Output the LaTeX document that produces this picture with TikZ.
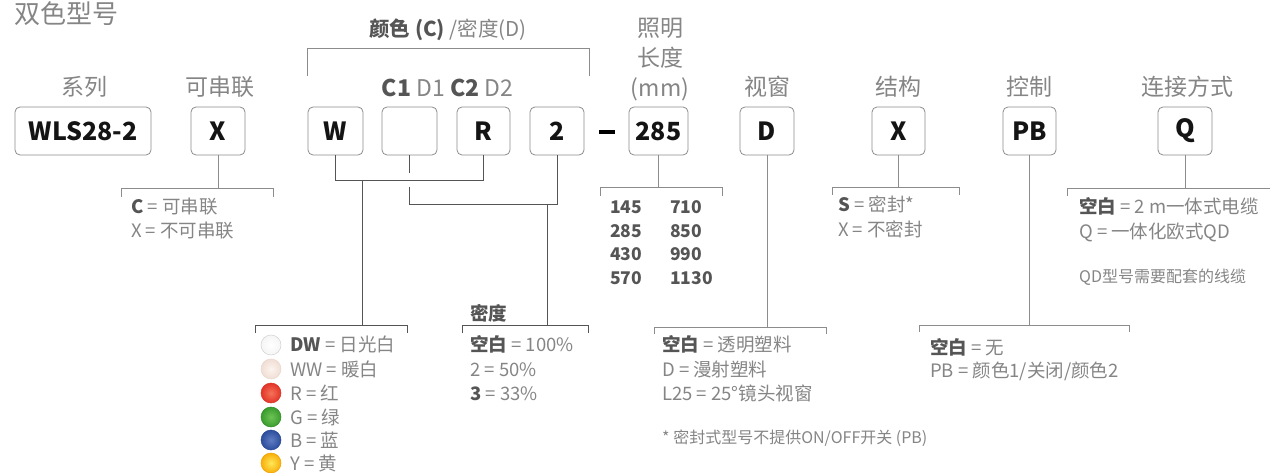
\documentclass[tikz,border=0pt]{standalone}
\usepackage{fontspec}
\setmainfont{Noto Sans CJK SC}
\usetikzlibrary{calc}
\definecolor{lbl}{HTML}{858585}
\definecolor{dk}{HTML}{555555}
\definecolor{ln}{HTML}{8C8C8C}
\definecolor{cl}{HTML}{555555}
\newcommand\myb[1]{\textcolor{dk}{\bfseries #1}}
\begin{document}
\begin{tikzpicture}[x=1pt,y=-1pt,
  keybox/.style={draw=ln, line width=0.8pt, rounded corners=5pt, minimum height=48pt, inner sep=0pt, font=\fontsize{25}{30}\selectfont\bfseries, text=black!92},
  lab/.style={anchor=base, text=lbl, font=\fontsize{23}{27}\selectfont, inner sep=0pt},
  desc/.style={anchor=base west, text=lbl, font=\fontsize{18.5}{22}\selectfont, inner sep=0pt},
  note/.style={anchor=base west, text=lbl, font=\fontsize{16}{19}\selectfont, inner sep=0pt},
  num/.style={anchor=base west, text=dk, font=\fontsize{17.5}{21}\selectfont\bfseries, inner sep=0pt},
  brk/.style={draw=ln, line width=0.8pt},
  cln/.style={draw=cl, line width=0.9pt},
  dot/.style={circle, minimum size=20pt, inner sep=0pt, shading=radial, line width=0.5pt},
]
\useasboundingbox (0,0) rectangle (1270,473);

% title
\node[anchor=base west, inner sep=0pt, text=lbl, font=\fontsize{26}{31}\selectfont] (title) at (14,23.5) {双色型号};

% boxes
\node[keybox, minimum width=136pt] (sr) at (83,131) {WLS28-2};
\node[keybox, minimum width=54pt] (ser) at (218,131) {X};
\node[keybox, minimum width=55pt] (c1) at (335.5,131) {W};
\node[keybox, minimum width=55pt] (d1) at (409.5,131) {};
\node[keybox, minimum width=53pt] (c2) at (483.5,131) {R};
\node[keybox, minimum width=54pt] (d2) at (557,131) {2};
\node[fill=black, minimum width=16pt, minimum height=4.5pt, inner sep=0pt] (dash) at (607,132) {};
\node[keybox, minimum width=59pt] (len) at (658.5,131) {285};
\node[keybox, minimum width=54pt] (win) at (767,131) {D};
\node[keybox, minimum width=53pt] (str) at (898.5,131) {X};
\node[keybox, minimum width=53pt] (ctl) at (1029.5,131) {PB};
\node[keybox, minimum width=54pt] (con) at (1185,131) {Q};

% labels
\node[lab] (l1) at (84,95.8) {系列};
\node[lab] (l2) at (220,95.8) {可串联};
\node[lab] (l3) at (767,95.8) {视窗};
\node[lab] (l4) at (898.5,95.8) {结构};
\node[lab] (l5) at (1029.5,95.8) {控制};
\node[lab] (l6) at (1187,95.8) {连接方式};
\node[lab] (m1) at (660,36.6) {照明};
\node[lab] (m2) at (660,66.6) {长度};
\node[lab] (m3) at (660,96.6) {(mm)};
\node[lab] (cd) at (447.5,96.6) {\myb{C1} D1 \myb{C2} D2};
\node[anchor=base, inner sep=0pt, text=lbl, font=\fontsize{20.5}{24}\selectfont] (cdt) at (448,36.5) {\myb{颜色 (C)} /密度(D)};

% top bracket
\draw[brk] (307,76) -- (307,48) -- (589,48) -- (589,76);

% series-connectable
\draw[brk] (ser.south) -- (ser.south |- 0,188);
\draw[brk] (121,197) -- (121,188) -- (273,188) -- (273,197);
\node[desc] (s1) at (131,214) {\myb{C} = 可串联};
\node[desc] (s2) at (131,238) {X = 不可串联};

% colour / density connectors
\draw[cln] (c1.south) -- (c1.south |- 0,180) -- (c2.south |- 0,180) -- (c2.south);
\draw[cln] (362,180) -- (362,325);
\draw[cln] (d1.south) -- (d1.south |- 0,173);
\draw[cln] (d1.south |- 0,187) -- (d1.south |- 0,204) -- (d2.south |- 0,204) -- (d2.south);
\draw[cln] (547,204) -- (547,325);
\draw[cln] (255,333) -- (255,325) -- (407,325) -- (407,333);
\draw[cln] (462,333) -- (462,325) -- (588,325) -- (588,333);

% colour list
\node[dot, draw=gray!35, inner color=white, outer color=gray!8] (kDW) at (271,345) {};
\node[dot, draw={rgb,255:red,232;green,214;blue,205}, inner color={rgb,255:red,252;green,244;blue,239}, outer color={rgb,255:red,240;green,222;blue,212}] (kWW) at (271,369) {};
\node[dot, draw={rgb,255:red,220;green,50;blue,35}, inner color={rgb,255:red,245;green,115;blue,90}, outer color={rgb,255:red,226;green,52;blue,40}] (kR) at (271,393) {};
\node[dot, draw={rgb,255:red,50;green,140;blue,40}, inner color={rgb,255:red,110;green,195;blue,85}, outer color={rgb,255:red,58;green,156;blue,46}] (kG) at (271,417) {};
\node[dot, draw={rgb,255:red,40;green,70;blue,145}, inner color={rgb,255:red,95;green,125;blue,196}, outer color={rgb,255:red,44;green,78;blue,156}] (kB) at (271,440) {};
\node[dot, draw={rgb,255:red,240;green,160;blue,0}, inner color={rgb,255:red,255;green,232;blue,90}, outer color={rgb,255:red,248;green,175;blue,10}] (kY) at (271,463) {};
\node[desc] (t1) at (290,352) {\myb{DW} = 日光白};
\node[desc] (t2) at (290,376) {WW = 暖白};
\node[desc] (t3) at (290,400) {R = 红};
\node[desc] (t4) at (290,424) {G = 绿};
\node[desc] (t5) at (290,447) {B = 蓝};
\node[desc] (t6) at (290,470) {Y = 黄};

% density
\node[desc, text=dk, font=\fontsize{18.5}{22}\selectfont\bfseries] (dh) at (470,320) {密度};
\node[desc] (e1) at (470,352) {\myb{空白} = 100\%};
\node[desc] (e2) at (470,376) {2 = 50\%};
\node[desc] (e3) at (470,400) {\myb{3} = 33\%};

% length
\draw[brk] (len.south) -- (len.south |- 0,187);
\draw[brk] (600,196) -- (600,187) -- (722,187) -- (722,196);
\node[num] (n1) at (610,213.5) {145};
\node[num] (n2) at (610,237.5) {285};
\node[num] (n3) at (610,260.5) {430};
\node[num] (n4) at (610,284.5) {570};
\node[num] (n5) at (670,213.5) {710};
\node[num] (n6) at (670,237.5) {850};
\node[num] (n7) at (670,260.5) {990};
\node[num] (n8) at (670,284.5) {1130};

% window
\draw[brk] (win.south) -- (win.south |- 0,327);
\draw[brk] (654,334) -- (654,327) -- (826,327) -- (826,334);
\node[desc] (w1) at (662,352) {\myb{空白} = 透明塑料};
\node[desc] (w2) at (662,376) {D = 漫射塑料};
\node[desc] (w3) at (662,400) {L25 = 25°镜头视窗};
\node[note] (fn) at (662,443) {* 密封式型号不提供ON/OFF开关 (PB)};

% structure
\draw[brk] (str.south) -- (str.south |- 0,187);
\draw[brk] (832,195) -- (832,187) -- (959,187) -- (959,195);
\node[desc] (x1) at (838,212) {\myb{S} = 密封*};
\node[desc] (x2) at (838,237) {X = 不密封};

% control
\draw[brk] (ctl.south) -- (ctl.south |- 0,325);
\draw[brk] (919,332) -- (919,325) -- (1129,325) -- (1129,332);
\node[desc] (p1) at (930,354) {\myb{空白} = 无};
\node[desc] (p2) at (930,377) {PB = 颜色1/关闭/颜色2};

% connection
\draw[brk] (con.south) -- (con.south |- 0,188);
\draw[brk] (1067,196) -- (1067,188) -- (1271,188);
\node[desc] (q1) at (1079,214) {\myb{空白} = 2 m一体式电缆};
\node[desc] (q2) at (1079,239) {Q = 一体化欧式QD};
\node[note] (q3) at (1079,283) {QD型号需要配套的线缆};
\end{tikzpicture}
\end{document}
